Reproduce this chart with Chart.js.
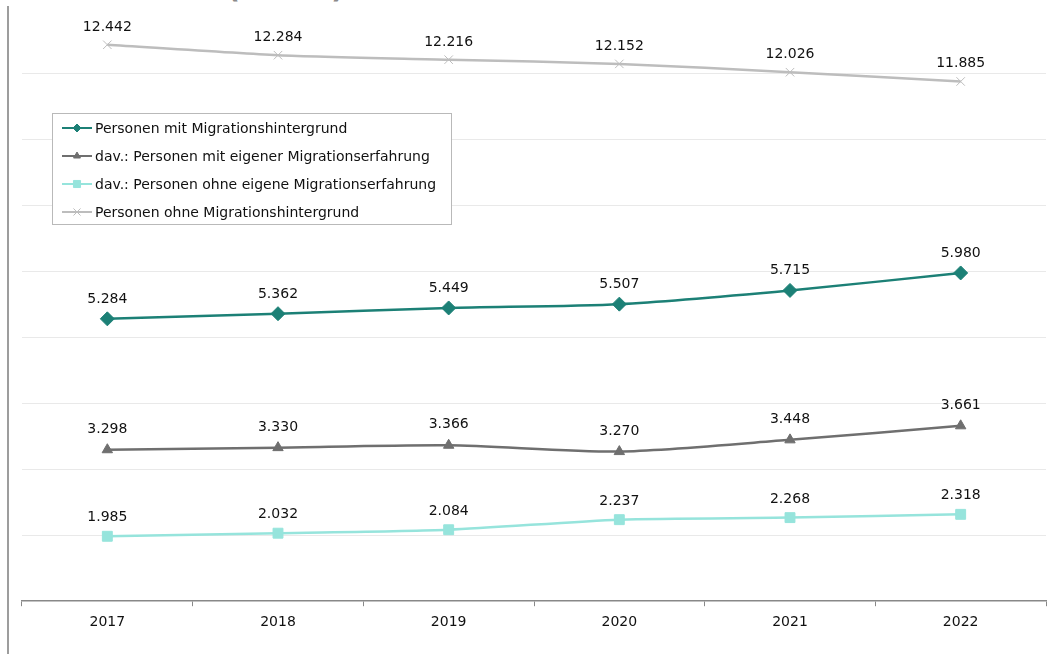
<!DOCTYPE html>
<html lang="de">
<head>
<meta charset="utf-8">
<title>Bevölkerung nach Migrationshintergrund (in Tsd)</title>
<script src="https://cdn.jsdelivr.net/npm/chart.js@4/dist/chart.umd.min.js"></script>
<style>
  html, body { margin: 0; padding: 0; background: #fff; }
  #wrap { position: relative; width: 1048px; height: 654px; overflow: hidden; }
  #frameLine { position: absolute; left: 7px; top: 6px; bottom: 0; width: 0; border-left: 2px solid #9d9d9d; }
  #title { position: absolute; left: 227px; top: -28px; font: bold 28px "DejaVu Sans", sans-serif; color: #8a8a8a; white-space: nowrap; }
  canvas { position: absolute; left: 0; top: 0; }
</style>
</head>
<body>
<div id="wrap">
  <div id="title">(in Tsd)</div>
  <div id="frameLine"></div>
  <canvas id="chart" width="1048" height="654"></canvas>
</div>
<script>
// Jahre
const years = ['2017', '2018', '2019', '2020', '2021', '2022'];

// Werte in Tausend Personen
const mitMigrationshintergrund = [5284, 5362, 5449, 5507, 5715, 5980];
const mitEigenerErfahrung      = [3298, 3330, 3366, 3270, 3448, 3661];
const ohneEigeneErfahrung      = [1985, 2032, 2084, 2237, 2268, 2318];
const ohneMigrationshintergrund = [12442, 12284, 12216, 12152, 12026, 11885];

// Reihennamen
const seriesNames = [
  'Personen mit Migrationshintergrund',
  'dav.: Personen mit eigener Migrationserfahrung',
  'dav.: Personen ohne eigene Migrationserfahrung',
  'Personen ohne Migrationshintergrund'
];

const FONT = '"DejaVu Sans", Verdana, sans-serif';

// Tausender mit Punkt trennen (12442 -> 12.442)
function fmt(n) {
  const k = Math.floor(n / 1000);
  const r = String(n % 1000).padStart(3, '0');
  return k + '.' + r;
}

// Werte über den Punkten beschriften
const valueLabels = {
  id: 'valueLabels',
  afterDatasetsDraw(chart) {
    const ctx = chart.ctx;
    ctx.save();
    ctx.font = '14px ' + FONT;
    ctx.fillStyle = '#111';
    ctx.textAlign = 'center';
    ctx.textBaseline = 'alphabetic';
    chart.data.datasets.forEach((ds, i) => {
      const meta = chart.getDatasetMeta(i);
      const off = ds.labelOffset || 15;
      meta.data.forEach((pt, j) => {
        ctx.fillText(fmt(ds.data[j]), pt.x, pt.y - off);
      });
    });
    ctx.restore();
  }
};

// Legende als Kasten innerhalb der Zeichenfläche
const boxLegend = {
  id: 'boxLegend',
  afterDraw(chart) {
    const ctx = chart.ctx;
    const x0 = 52.5, y0 = 113.5, w = 399, h = 111;
    ctx.save();
    ctx.fillStyle = '#fff';
    ctx.fillRect(x0, y0, w, h);
    ctx.strokeStyle = '#b9b9b9';
    ctx.lineWidth = 1;
    ctx.strokeRect(x0, y0, w, h);
    ctx.font = '14px ' + FONT;
    ctx.textBaseline = 'middle';
    ctx.textAlign = 'left';
    chart.data.datasets.forEach((ds, i) => {
      const cy = 128 + i * 28;
      ctx.strokeStyle = ds.borderColor;
      ctx.lineWidth = 2;
      ctx.beginPath();
      ctx.moveTo(62, cy);
      ctx.lineTo(92, cy);
      ctx.stroke();
      ctx.fillStyle = ds.pointBackgroundColor;
      ctx.strokeStyle = ds.pointBorderColor;
      ctx.lineWidth = ds.pointBorderWidth;
      Chart.helpers.drawPoint(ctx, {
        pointStyle: ds.pointStyle,
        radius: ds.legendRadius,
        rotation: 0,
        borderWidth: ds.pointBorderWidth
      }, 77, cy);
      ctx.fillStyle = '#111';
      ctx.fillText(ds.label, 95, cy + 1);
    });
    ctx.restore();
  }
};

new Chart(document.getElementById('chart'), {
  type: 'line',
  data: {
    labels: years,
    datasets: [
      {
        label: seriesNames[0],
        data: mitMigrationshintergrund,
        borderColor: '#1c8076',
        pointBackgroundColor: '#1c8076',
        pointBorderColor: '#1c8076',
        pointBorderWidth: 1,
        pointStyle: 'rectRot',
        pointRadius: 7,
        legendRadius: 4,
        labelOffset: 16,
        borderWidth: 2.5,
        yAxisID: 'y'
      },
      {
        label: seriesNames[1],
        data: mitEigenerErfahrung,
        borderColor: '#6f6f6f',
        pointBackgroundColor: '#6f6f6f',
        pointBorderColor: '#6f6f6f',
        pointBorderWidth: 1,
        pointStyle: 'triangle',
        pointRadius: 6,
        legendRadius: 4,
        labelOffset: 17,
        borderWidth: 2.5,
        yAxisID: 'y'
      },
      {
        label: seriesNames[2],
        data: ohneEigeneErfahrung,
        borderColor: '#96e4dc',
        pointBackgroundColor: '#96e4dc',
        pointBorderColor: '#96e4dc',
        pointBorderWidth: 1,
        pointStyle: 'rect',
        pointRadius: 7,
        legendRadius: 5,
        labelOffset: 15,
        borderWidth: 2.5,
        yAxisID: 'y'
      },
      {
        label: seriesNames[3],
        data: ohneMigrationshintergrund,
        borderColor: '#bdbdbd',
        pointBackgroundColor: '#bdbdbd',
        pointBorderColor: '#bdbdbd',
        pointBorderWidth: 1,
        pointStyle: 'crossRot',
        pointRadius: 6,
        legendRadius: 5,
        labelOffset: 14,
        borderWidth: 2.5,
        yAxisID: 'y2'
      }
    ]
  },
  options: {
    responsive: false,
    animation: false,
    devicePixelRatio: 1,
    layout: { autoPadding: false, padding: { left: 22, right: 2, top: 8, bottom: 15 } },
    elements: { line: { tension: 0.25 } },
    plugins: {
      legend: { display: false },
      tooltip: { enabled: false },
      title: { display: false }
    },
    scales: {
      x: {
        type: 'category',
        offset: true,
        afterFit(scale) {
          scale.paddingLeft = 0;
          scale.paddingRight = 0;
        },
        border: { display: true, color: '#888', width: 1.5 },
        grid: {
          offset: true,
          drawOnChartArea: false,
          drawTicks: true,
          tickLength: 5,
          color: '#888',
          lineWidth: 1
        },
        ticks: {
          color: '#111',
          font: { family: FONT, size: 14 },
          padding: 8,
          maxRotation: 0
        }
      },
      y: {
        min: 1000,
        max: 10000,
        border: { display: false },
        grid: {
          drawTicks: false,
          lineWidth: 1,
          color: (c) => (c.tick && (c.tick.value === 1000 || c.tick.value === 10000)) ? 'rgba(0,0,0,0)' : '#e9e9e9'
        },
        ticks: { display: false, stepSize: 1000 }
      },
      y2: {
        display: false,
        min: 4000,
        max: 13000
      }
    }
  },
  plugins: [valueLabels, boxLegend]
});
</script>
</body>
</html>
